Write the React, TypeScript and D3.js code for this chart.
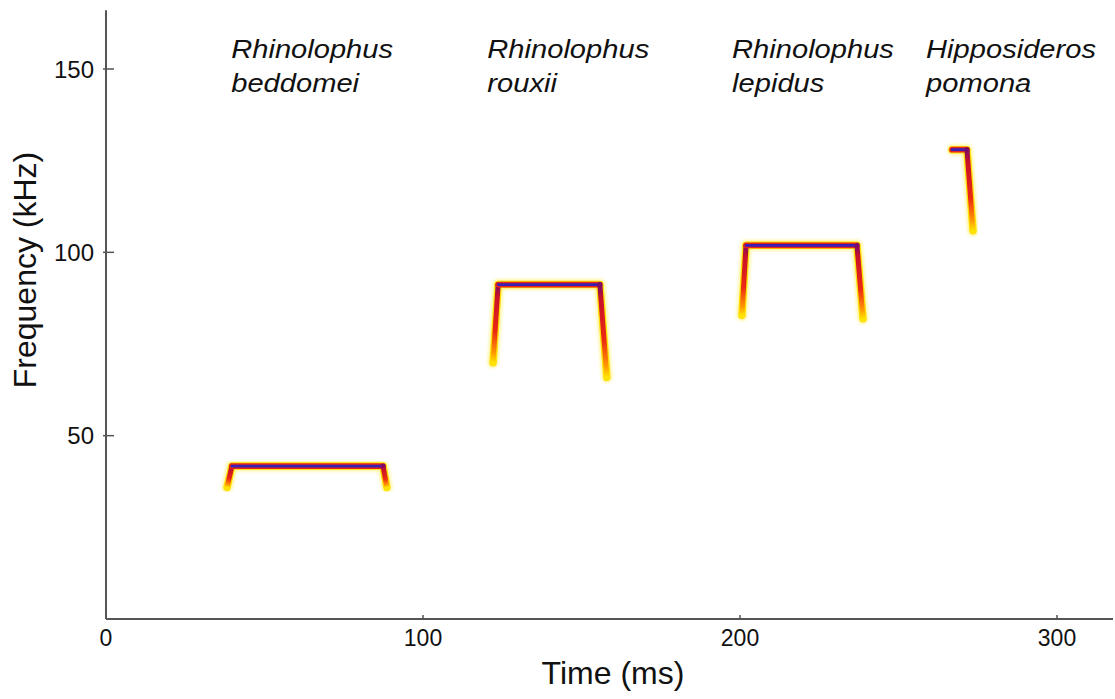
import React from "react";
import * as d3 from "d3";

// Echolocation call contours (time in ms, frequency in kHz)
const species = [
  ["Rhinolophus", "beddomei"],
  ["Rhinolophus", "rouxii"],
  ["Rhinolophus", "lepidus"],
  ["Hipposideros", "pomona"],
];
const labelTimes = [39.5, 120.3, 197.5, 258.7];

const callTimes = [
  [38.2, 39.7, 87.4, 88.6],
  [122.1, 123.7, 155.8, 158.0],
  [200.6, 201.9, 236.9, 238.8],
  [266.9, 271.6, 273.5],
];
const callFreqs = [
  [35.9, 41.7, 41.7, 35.9],
  [69.9, 91.2, 91.2, 65.9],
  [82.8, 101.9, 101.9, 81.9],
  [128.0, 128.0, 105.9],
];

const xTicks = [0, 100, 200, 300];
const yTicks = [50, 100, 150];

const W = 1115;
const H = 699;
const left = 106;
const bottom = 619;

export default function App() {
  const x = d3.scaleLinear().domain([0, 300]).range([left, 1057]);
  const y = d3.scaleLinear().domain([0, 150]).range([bottom, 69]);
  const top = y(166);
  const font = "'Liberation Sans', Arial, sans-serif";
  const line = d3.line<[number, number]>().x((d) => x(d[0])).y((d) => y(d[1]));

  return (
    <svg
      width={W}
      height={H}
      style={{ position: "absolute", left: 0, top: 0, background: "#fff" }}
      fontFamily={font}
    >
      <defs>
        <filter id="soft" x="-20%" y="-20%" width="140%" height="140%">
          <feGaussianBlur stdDeviation="1.4" />
        </filter>
        <filter id="soft2" x="-20%" y="-20%" width="140%" height="140%">
          <feGaussianBlur stdDeviation="0.6" />
        </filter>
        {callTimes.map((ts, ci) =>
          ts.slice(0, -1).map((t, i) => {
            const f0 = callFreqs[ci][i];
            const f1 = callFreqs[ci][i + 1];
            if (f0 === f1) return null;
            // gradient runs from the low-frequency tip to the high-frequency end
            const lowFirst = f0 < f1;
            const a: [number, number] = lowFirst ? [t, f0] : [ts[i + 1], f1];
            const b: [number, number] = lowFirst ? [ts[i + 1], f1] : [t, f0];
            return (
              <linearGradient
                key={`g${ci}-${i}`}
                id={`g${ci}-${i}`}
                gradientUnits="userSpaceOnUse"
                x1={x(a[0])}
                y1={y(a[1])}
                x2={x(b[0])}
                y2={y(b[1])}
              >
                <stop offset="0" stopColor="#ffe400" />
                <stop offset="0.12" stopColor="#ff9a00" />
                <stop offset="0.4" stopColor="#ec2a12" />
                <stop offset="0.85" stopColor="#c8102a" />
                <stop offset="1" stopColor="#7a0a6a" />
              </linearGradient>
            );
          })
        )}
      </defs>

      {/* call contours */}
      {callTimes.map((ts, ci) => {
        const pts: [number, number][] = ts.map((t, i) => [t, callFreqs[ci][i]]);
        const d = line(pts) ?? "";
        return (
          <g key={ci} fill="none" strokeLinecap="round" strokeLinejoin="round">
            <path d={d} stroke="#fff38c" strokeWidth={11} opacity={0.8} filter="url(#soft)" />
            <path d={d} stroke="#ffe000" strokeWidth={7.5} filter="url(#soft2)" />
            {ts.slice(0, -1).map((t, i) => {
              const f0 = callFreqs[ci][i];
              const f1 = callFreqs[ci][i + 1];
              const seg = line([
                [t, f0],
                [ts[i + 1], f1],
              ]) ?? "";
              if (f0 === f1) {
                return (
                  <g key={i}>
                    <path d={seg} stroke="#e4241a" strokeWidth={5.8} />
                    <path d={seg} stroke="#7a1470" strokeWidth={4} filter="url(#soft2)" />
                    <path d={seg} stroke="#3a1fb4" strokeWidth={2.6} />
                  </g>
                );
              }
              return (
                <path
                  key={i}
                  d={seg}
                  stroke={`url(#g${ci}-${i})`}
                  strokeWidth={5}
                />
              );
            })}
          </g>
        );
      })}

      {/* axes */}
      <g stroke="#555" strokeWidth={2}>
        <line x1={left} y1={top} x2={left} y2={bottom} />
        <line x1={left} y1={bottom} x2={1113} y2={bottom} />
        {yTicks.map((v) => (
          <line key={v} x1={left - 3} x2={left + 8} y1={y(v)} y2={y(v)} strokeWidth={1.5} />
        ))}
        {xTicks.map((v) => (
          <line key={v} x1={x(v)} x2={x(v)} y1={bottom} y2={bottom - 4} strokeWidth={1.5} />
        ))}
      </g>

      {yTicks.map((v) => (
        <text
          key={v}
          x={left - 12}
          y={y(v)}
          dy="0.36em"
          textAnchor="end"
          fontSize={24}
          fill="#111"
        >
          {v}
        </text>
      ))}
      {xTicks.map((v) => (
        <text key={v} x={x(v)} y={646} textAnchor="middle" fontSize={23} fill="#111">
          {v}
        </text>
      ))}

      <text x={613} y={684} textAnchor="middle" fontSize={32} fill="#111">
        Time (ms)
      </text>
      <text
        transform={`translate(36,270) rotate(-90)`}
        textAnchor="middle"
        fontSize={32}
        fill="#111"
      >
        Frequency (kHz)
      </text>

      {/* species labels */}
      {species.map((s, i) => (
        <g key={i} transform={`translate(${x(labelTimes[i])},0) scale(1.12,1)`}>
          <text y={58} fontSize={26} fontStyle="italic" fill="#111">
            {s[0]}
          </text>
          <text y={92} fontSize={26} fontStyle="italic" fill="#111">
            {s[1]}
          </text>
        </g>
      ))}
    </svg>
  );
}
